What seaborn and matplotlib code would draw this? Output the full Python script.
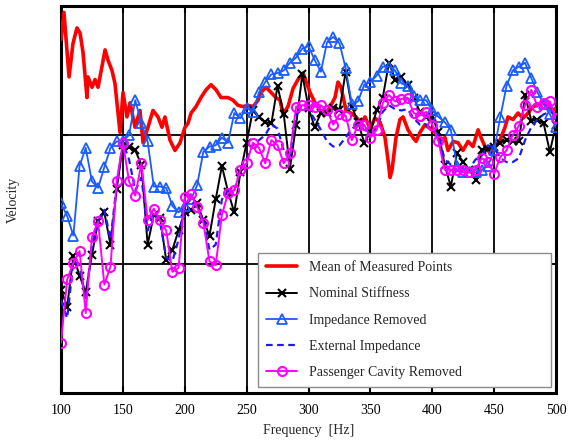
import matplotlib
matplotlib.use("Agg")
import matplotlib.pyplot as plt
import pandas as pd
import seaborn as sns

sns.set_theme(style="white")
plt.rcParams["font.family"] = ["Liberation Serif", "DejaVu Serif"]

# Frequency grid of the simulated responses [Hz]
freq = list(range(100, 501, 5))

# Simulated velocity levels (arbitrary dB scale)
nominal_stiffness = [
    8.0, 6.7, 10.6, 9.1, 7.8, 10.7, 13.3, 14.0, 11.5, 15.8,
    19.2, 19.1, 18.8, 17.7, 11.5, 13.8, 13.6, 10.3, 11.1, 12.6,
    14.0, 14.2, 14.7, 13.4, 12.2, 15.0, 17.6, 15.6, 14.0, 17.1,
    19.4, 21.9, 21.4, 21.0, 20.9, 23.8, 21.6, 17.4, 20.8, 24.7,
    22.1, 20.6, 21.7, 21.7, 22.1, 21.9, 24.9, 22.2, 21.0, 19.4,
    20.2, 21.9, 22.9, 25.6, 24.3, 24.5, 23.9, 22.9, 21.8, 21.4,
    21.4, 20.2, 17.7, 16.0, 18.6, 17.9, 17.3, 16.5, 18.8, 18.9,
    19.1, 19.4, 19.6, 19.5, 19.5, 23.1, 21.1, 21.2, 20.9, 18.7,
    20.8,
]
impedance_removed = [
    14.7, 13.7, 12.2, 17.6, 19.0, 16.4, 15.9, 17.5, 19.0, 19.5,
    19.5, 20.0, 22.7, 20.9, 19.5, 16.0, 16.0, 15.9, 14.5, 14.0,
    14.5, 15.0, 16.1, 18.7, 19.1, 19.2, 19.8, 19.4, 21.7, 21.3,
    22.1, 21.8, 23.3, 24.1, 24.7, 24.8, 25.0, 25.6, 26.0, 26.7,
    26.9, 25.8, 24.9, 27.2, 27.6, 27.1, 25.2, 22.4, 22.6, 23.9,
    24.1, 24.6, 25.3, 25.3, 25.0, 24.0, 23.8, 23.0, 22.7, 22.7,
    21.9, 21.4, 21.0, 20.4, 17.6, 17.1, 17.1, 17.1, 17.3, 17.6,
    18.8, 21.4, 23.8, 25.0, 25.3, 25.6, 24.4, 23.3, 22.4, 21.6,
    20.6,
]
external_impedance = [
    7.2, 5.8, 10.2, 9.9, 7.2, 11.5, 13.3, 14.2, 11.9, 16.1,
    19.4, 18.1, 15.7, 16.7, 12.6, 14.0, 13.3, 10.5, 10.2, 11.9,
    14.6, 15.0, 14.3, 13.4, 11.1, 11.5, 15.0, 15.7, 15.7, 17.3,
    18.1, 19.2, 19.6, 20.0, 20.8, 20.5, 18.8, 18.4, 21.6, 22.0,
    22.0, 21.2, 20.4, 19.5, 19.1, 19.2, 19.8, 20.5, 20.8, 20.4,
    20.2, 20.5, 21.8, 22.3, 22.0, 21.9, 22.0, 21.3, 20.8, 20.8,
    20.4, 20.0, 18.1, 17.7, 17.3, 17.3, 17.4, 18.1, 18.4, 19.2,
    19.0, 18.2, 17.9, 17.9, 18.2, 19.6, 20.6, 21.2, 21.6, 21.8,
    21.6,
]
cavity_removed = [
    3.9, 8.8, 10.1, 11.0, 6.2, 12.1, 13.3, 8.4, 9.8, 16.4,
    19.4, 16.4, 15.3, 17.8, 13.4, 14.3, 13.4, 12.6, 9.4, 9.7,
    15.2, 15.4, 14.4, 13.2, 10.2, 9.9, 13.8, 15.5, 15.7, 17.3,
    17.8, 19.4, 19.0, 17.8, 19.6, 19.2, 17.8, 18.6, 22.2, 22.3,
    22.3, 22.2, 22.3, 21.9, 20.8, 21.6, 21.5, 19.6, 20.8, 20.8,
    19.8, 20.4, 22.5, 23.1, 22.6, 22.8, 22.9, 21.7, 21.5, 21.8,
    20.8, 19.5, 17.3, 17.3, 17.3, 17.3, 17.1, 17.3, 18.2, 17.9,
    17.0, 18.3, 18.8, 20.0, 20.7, 22.3, 23.5, 22.2, 22.5, 22.6,
    21.3,
]

# Mean of the measured points (finer frequency resolution)
measured_freq = [
    100.0, 102.4, 106.5, 109.7, 112.9, 115.4, 117.8, 121.0, 121.8, 125.1,
    127.5, 129.9, 133.1, 135.6, 138.0, 141.2, 143.6, 147.7, 150.1, 153.3,
    155.8, 159.8, 163.8, 166.3, 170.3, 174.3, 178.4, 181.6, 184.0, 188.1,
    192.1, 196.2, 200.2, 202.6, 205.1, 209.1, 213.1, 217.2, 221.2, 225.3,
    229.3, 234.9, 239.0, 243.0, 247.1, 251.1, 255.2, 259.2, 261.6, 265.7,
    269.7, 273.7, 277.0, 279.4, 283.4, 287.5, 291.5, 295.6, 301.2, 305.3,
    310.1, 315.8, 321.4, 323.8, 326.3, 330.3, 334.3, 338.4, 342.4, 345.7,
    349.7, 353.7, 357.8, 361.8, 364.2, 365.9, 367.5, 370.7, 373.9, 376.4,
    380.4, 384.4, 386.9, 390.1, 394.1, 398.2, 402.2, 406.3, 410.3, 412.7,
    416.8, 420.8, 424.8, 428.9, 432.9, 437.0, 439.4, 442.6, 446.7, 450.7,
    454.7, 458.8, 461.2, 465.3, 469.3, 473.3, 477.4, 481.4, 485.5, 489.5,
    493.5, 497.6, 500.0,
]
measured_mean = [
    27.4, 29.5, 24.5, 27.1, 28.3, 27.9, 26.4, 22.9, 24.5, 23.7,
    24.3, 23.7, 25.3, 26.6, 25.8, 25.0, 24.0, 20.2, 23.3, 21.4,
    22.5, 20.6, 21.9, 19.4, 20.6, 21.9, 21.4, 20.6, 21.4, 19.6,
    18.8, 19.4, 20.6, 20.9, 21.7, 22.2, 22.9, 23.5, 23.9, 23.5,
    22.9, 22.9, 22.7, 22.3, 22.2, 22.3, 22.2, 22.7, 23.3, 23.7,
    23.3, 22.9, 22.7, 21.6, 22.2, 23.6, 24.3, 24.8, 23.3, 22.5,
    21.8, 21.9, 22.9, 24.1, 23.7, 21.9, 21.7, 21.4, 20.9, 21.4,
    20.5, 21.3, 21.0, 19.8, 18.1, 16.7, 17.3, 19.8, 21.2, 21.4,
    20.4, 19.8, 19.5, 20.2, 20.8, 20.5, 20.2, 19.6, 19.8, 18.8,
    19.5, 19.4, 18.8, 19.5, 19.1, 20.4, 19.8, 19.1, 18.6, 19.1,
    19.6, 20.6, 21.4, 21.2, 21.7, 21.3, 21.7, 22.2, 22.3, 22.5,
    22.2, 21.9, 22.1,
]

labels = [
    "Mean of Measured Points",
    "Nominal Stiffness",
    "Impedance Removed",
    "External Impedance",
    "Passenger Cavity Removed",
]

fig = plt.figure(figsize=(5.69, 4.44), dpi=100)
ax = fig.add_axes([0.1072, 0.1149, 0.870, 0.8716])

sns.lineplot(x=measured_freq, y=measured_mean, ax=ax, color="#ff0000",
             linewidth=2.6, sort=False, label=labels[0], zorder=3)
sns.lineplot(x=freq, y=nominal_stiffness, ax=ax, color="black",
             linewidth=1.4, marker="x", markersize=6, markeredgewidth=1.5,
             markeredgecolor="black",
             sort=False, label=labels[1], zorder=4)
sns.lineplot(x=freq, y=impedance_removed, ax=ax, color="#1a5cff",
             linewidth=1.3, marker="^", markersize=6.5, markerfacecolor="none",
             markeredgecolor="#1a5cff", markeredgewidth=1.3,
             sort=False, label=labels[2], zorder=4)
sns.lineplot(x=freq, y=external_impedance, ax=ax, color="#1c1cf0",
             linewidth=1.6, linestyle=(0, (3, 2)), sort=False,
             label=labels[3], zorder=5)
sns.lineplot(x=freq, y=cavity_removed, ax=ax, color="#ff00ff",
             linewidth=1.4, marker="o", markersize=6.5, markerfacecolor="none",
             markeredgecolor="#ff00ff", markeredgewidth=1.5,
             sort=False, label=labels[4], zorder=6)

ax.set_xlim(100, 500)
ax.set_ylim(0, 30)
ax.set_xticks(range(100, 501, 50))
ax.set_yticks([10, 20])
ax.set_yticklabels([])
ax.grid(True, color="black", linewidth=1.3, linestyle="-")
ax.set_axisbelow(True)

for side in ["left", "right", "top", "bottom"]:
    ax.spines[side].set_visible(True)
    ax.spines[side].set_color("black")
    ax.spines[side].set_linewidth(2.2)

ax.tick_params(axis="both", direction="in", length=5, width=1.5,
               top=True, right=True, bottom=True, left=True,
               labelsize=10, colors="black")
ax.tick_params(axis="x", pad=8)

ax.set_xlabel("Frequency  [Hz]", fontsize=10, labelpad=5)
ax.set_ylabel("Velocity", fontsize=10, labelpad=26)

leg = ax.legend(loc="upper left", bbox_to_anchor=(0.398, 0.0, 0.592, 0.362),
                mode="expand", borderaxespad=0, frameon=True, fancybox=False,
                framealpha=1, edgecolor="#8c8c8c", fontsize=10,
                handlelength=2.2, handletextpad=0.9, labelspacing=0.95,
                borderpad=0.6)
leg.get_frame().set_linewidth(1.0)
leg.set_zorder(10)

fig.savefig("out.png", dpi=100)
